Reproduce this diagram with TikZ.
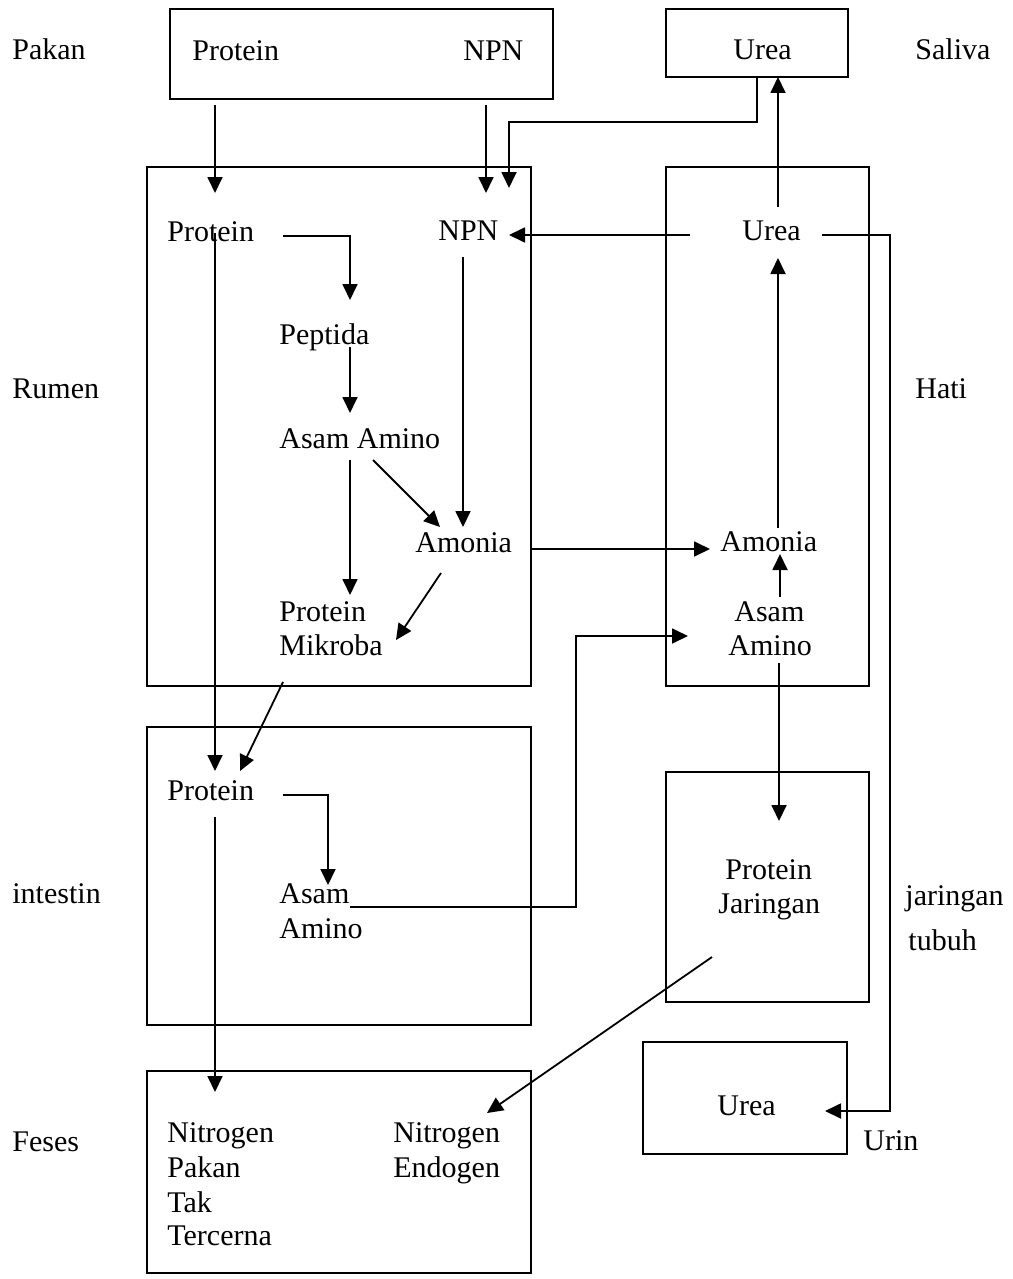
\documentclass[tikz,border=0pt]{standalone}
\usepackage{fontspec}
\setmainfont{Liberation Serif}
\usetikzlibrary{calc,arrows.meta}

\begin{document}
\begin{tikzpicture}[x=0.5pt,y=-0.5pt]
\tikzstyle{txt}=[inner sep=0,anchor=base west,font=\fontsize{15}{18}\selectfont]
\tikzstyle{box}=[draw,line width=1pt,inner sep=0,outer sep=0]
\tikzstyle{arr}=[line width=0.9pt,-{Triangle[length=8pt,width=7.5pt]}]
\useasboundingbox (0,0) rectangle (1012,1279);

% boxes
\node[box,minimum width=191.5pt,minimum height=45pt] (bPakan) at (361.5,54) {};
\node[box,minimum width=91pt,minimum height=34pt] (bSaliva) at (757,43) {};
\node[box,minimum width=192pt,minimum height=259.5pt] (bRumen) at (339,426.5) {};
\node[box,minimum width=101.5pt,minimum height=259.5pt] (bHati) at (767.5,426.5) {};
\node[box,minimum width=192pt,minimum height=149pt] (bIntestin) at (339,876) {};
\node[box,minimum width=101.5pt,minimum height=115pt] (bJaringan) at (767.5,887) {};
\node[box,minimum width=102pt,minimum height=56pt] (bUrin) at (745,1098) {};
\node[box,minimum width=192pt,minimum height=101pt] (bFeses) at (339,1172) {};

% side labels
\node[txt] (lPakan) at (12,60) {Pakan};
\node[txt] (lSaliva) at (915,60) {Saliva};
\node[txt] (lRumen) at (12,398) {Rumen};
\node[txt] (lHati) at (915,398) {Hati};
\node[txt] (lIntestin) at (12,903) {intestin};
\node[txt] (lJaringan) at (905,905) {jaringan};
\node[txt] (lTubuh) at (908,950) {tubuh};
\node[txt] (lFeses) at (12,1151) {Feses};
\node[txt] (lUrin) at (863,1150) {Urin};

% contents
\node[txt] (pProt) at (192,61) {Protein};
\node[txt] (pNPN) at (463,61) {NPN};
\node[txt] (sUrea) at (733,60) {Urea};
\node[txt] (rProt) at (167,241) {Protein};
\node[txt] (rNPN) at (438,240) {NPN};
\node[txt] (hUrea) at (742,240) {Urea};
\node[txt] (rPept) at (279,344) {Peptida};
\node[txt] (rAsam) at (279,448) {Asam Amino};
\node[txt] (rAmon) at (415,552) {Amonia};
\node[txt] (hAmon) at (720,551) {Amonia};
\node[txt] (rMikr1) at (279,621) {Protein};
\node[txt] (rMikr2) at (279,655) {Mikroba};
\node[txt] (hAsam1) at (734,621) {Asam};
\node[txt] (hAsam2) at (728,655) {Amino};
\node[txt] (iProt) at (167,800) {Protein};
\node[txt] (iAsam1) at (279,903) {Asam};
\node[txt] (iAsam2) at (279,938) {Amino};
\node[txt] (jProt1) at (725,879) {Protein};
\node[txt] (jProt2) at (718,913) {Jaringan};
\node[txt] (uUrea) at (717,1115) {Urea};
\node[txt] (fPak1) at (167,1142) {Nitrogen};
\node[txt] (fPak2) at (167,1177) {Pakan};
\node[txt] (fPak3) at (167,1212) {Tak};
\node[txt] (fPak4) at (167,1245) {Tercerna};
\node[txt] (fEnd1) at (393,1142) {Nitrogen};
\node[txt] (fEnd2) at (393,1177) {Endogen};

% arrows
\draw[arr] ($(bPakan.south west)+(45,6)$) -- ($(rProt.base west)+(48,-48)$);
\draw[arr] ($(bPakan.south west)+(316,6)$) -- ($(rNPN.base west)+(48,-47)$);
\draw[arr] (bSaliva.south) -- ++(0,45) -| ($(rNPN.base west)+(71,-52)$);
\draw[arr] ($(hUrea.base west)+(36,-33)$) -- ($(bSaliva.south)+(21,0)$);
\draw[arr] ($(hUrea.base west)+(-52,-5)$) -- ($(rNPN.base west)+(71,-5)$);
\draw[arr] ($(hUrea.base west)+(80,-5)$) -- ++(68,0) |- ($(uUrea.base west)+(108,-4)$);
\draw[arr] ($(rProt.base west)+(116,-5)$) -| ($(rPept.base west)+(71,-44)$);
\draw[arr] ($(rPept.base west)+(71,3)$) -- ($(rAsam.base west)+(71,-35)$);
\draw[arr] ($(rNPN.base west)+(25,17)$) -- ($(rAmon.base west)+(48,-25)$);
\draw[arr] ($(rAsam.base west)+(94,12)$) -- ($(rAmon.base west)+(25,-25)$);
\draw[arr] ($(rAsam.base west)+(71,12)$) -- ($(rMikr1.base west)+(71,-26)$);
\draw[arr] ($(rAmon.base west)+(26,21)$) -- ($(rMikr2.base west)+(117,-15)$);
\draw[arr] ($(rMikr2.base west)+(4,27)$) -- ($(iProt.base west)+(73,-29)$);
\draw[arr] ($(rProt.base west)+(48,-8)$) -- ($(iProt.base west)+(48,-29)$);
\draw[arr] ($(rAmon.base west)+(116,-3)$) -- ($(hAmon.base west)+(-10,-2)$);
\draw[arr] ($(hAsam1.base west)+(46,-24)$) -- ($(hAmon.base west)+(60,3)$);
\draw[arr] ($(hAmon.base west)+(58,-23)$) -- ($(hUrea.base west)+(36,18)$);
\draw[arr] ($(hAsam2.base west)+(51,8)$) -- ($(jProt1.base west)+(54,-58)$);
\draw[arr] ($(iProt.base west)+(116,-5)$) -| ($(iAsam1.base west)+(49,-18)$);
\draw[arr] ($(iAsam1.base west)+(71,4)$) -- ++(226,0) |- ($(hAsam2.base west)+(-40,-19)$);
\draw[arr] ($(iProt.base west)+(48,17)$) -- ($(fPak1.base west)+(48,-50)$);
\draw[arr] ($(jProt2.base west)+(-6,44)$) -- ($(fEnd1.base west)+(94,-29)$);
\end{tikzpicture}
\end{document}
